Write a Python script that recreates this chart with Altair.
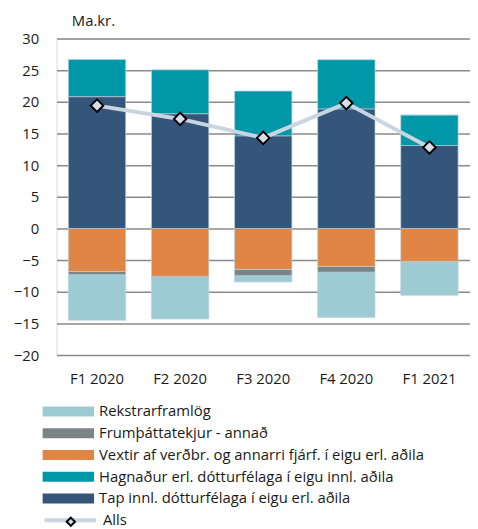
import altair as alt
import pandas as pd

cats = ["F1 2020", "F2 2020", "F3 2020", "F4 2020", "F1 2021"]
series_names = [
    "Rekstrarframlög",
    "Frumþáttatekjur - annað",
    "Vextir af verðbr. og annarri fjárf. í eigu erl. aðila",
    "Hagnaður  erl. dótturfélaga í eigu innl. aðila",
    "Tap innl. dótturfélaga í eigu erl. aðila",
]
colors = ["#9dcbd4", "#7a8385", "#e08543", "#0097a9", "#33567a"]
stack_order = [4, 3, 2, 1, 0]

rekstrar = [-7.2, -6.55, -1.0, -7.15, -5.35]
frum = [-0.5, -0.2, -1.0, -0.9, 0.0]
vextir = [-6.8, -7.55, -6.45, -6.0, -5.2]
hagn = [5.9, 6.95, 7.1, 7.8, 4.8]
tap = [20.8, 18.1, 14.6, 18.85, 13.1]
alls = [19.4, 17.3, 14.3, 19.8, 12.8]
y_ticks = [-20, -15, -10, -5, 0, 5, 10, 15, 20, 25, 30]

values = [rekstrar, frum, vextir, hagn, tap]
rows = []
for name, vals, o in zip(series_names, values, stack_order):
    for c, v in zip(cats, vals):
        rows.append({"cat": c, "series": name, "value": v, "ord": o})
bars_df = pd.DataFrame(rows)
line_df = pd.DataFrame({"cat": cats, "value": alls, "s1": "Alls", "s2": "Alls"})

FONT = "Open Sans"
FS = 15
LEG_X = 2
LEG_Y = 367
ROW_PAD = 4.0
LINE_LEG_Y = 475

x = alt.X(
    "cat:N", sort=cats,
    scale=alt.Scale(paddingInner=0.31, paddingOuter=0.143),
    axis=alt.Axis(title=None, labelAngle=0, ticks=False, domain=False,
                  labelPadding=17, labelFontSize=FS, grid=False),
)
y_axis = alt.Axis(
    values=y_ticks, title="Ma.kr.", titleAngle=0,
    titleAlign="left", titleBaseline="alphabetic", titleX=15, titleY=-13,
    titleFontWeight="normal", titleFontSize=FS, grid=True,
    gridColor="#8a8a8a", gridWidth=1.5, domain=False, ticks=False,
    labelPadding=18, labelFontSize=FS,
)
y_scale = alt.Scale(domain=[-20, 30], nice=False)

bars = alt.Chart(bars_df).mark_bar(stroke="#bcd0dd", strokeWidth=0.7).encode(
    x=x,
    y=alt.Y("value:Q", stack="zero", scale=y_scale, axis=y_axis),
    color=alt.Color(
        "series:N",
        scale=alt.Scale(domain=series_names, range=colors),
        legend=alt.Legend(
            title=None, orient="none", legendX=LEG_X, legendY=LEG_Y,
            symbolType="M-2.6,-0.5H2.6V0.5H-2.6Z", symbolSize=400,
            symbolStrokeWidth=0, labelOffset=21, rowPadding=ROW_PAD,
            labelFontSize=FS, padding=0, labelLimit=500,
        ),
    ),
    order=alt.Order("ord:Q"),
)

line = alt.Chart(line_df).mark_line(strokeWidth=4).encode(
    x=x,
    y=alt.Y("value:Q", scale=y_scale, axis=y_axis),
    stroke=alt.Stroke(
        "s1:N", scale=alt.Scale(range=["#c9d5e1"]),
        legend=alt.Legend(
            title=None, orient="none", legendX=LEG_X, legendY=LINE_LEG_Y,
            symbolType="M-2.6,0H2.6", symbolSize=400, symbolStrokeWidth=4,
            labelOffset=21, labelFontSize=FS, padding=0, zindex=0,
        ),
    ),
)

points = alt.Chart(line_df).mark_point(
    filled=False, fill="#d6dee8", strokeWidth=2, shape="diamond",
    size=160, opacity=1, fillOpacity=1,
).encode(
    x=x,
    y=alt.Y("value:Q", scale=y_scale, axis=y_axis),
    stroke=alt.Stroke(
        "s2:N", scale=alt.Scale(range=["#000000"]),
        legend=alt.Legend(
            title=None, orient="none", legendX=LEG_X + 5, legendY=LINE_LEG_Y + 6,
            symbolType="diamond", symbolSize=70, labelExpr="''",
            labelFontSize=FS, padding=0, symbolFillColor="#eef2f6",
            symbolStrokeWidth=2, symbolOpacity=1, zindex=1,
        ),
    ),
)

chart = alt.layer(bars, line, points).resolve_scale(
    stroke="independent"
).resolve_legend(stroke="independent").properties(
    width=418, height=320,
    autosize=alt.AutoSizeParams(type="none"),
    padding={"left": 49, "top": 28, "right": 0, "bottom": 178},
).configure_view(stroke=None).configure(font=FONT).configure_axis(
    labelColor="#1a1a1a", titleColor="#1a1a1a", labelFont=FONT, titleFont=FONT
).configure_legend(labelColor="#1a1a1a", labelFont=FONT)

chart.save("out.html", embed_options={"renderer": "svg", "actions": False})
